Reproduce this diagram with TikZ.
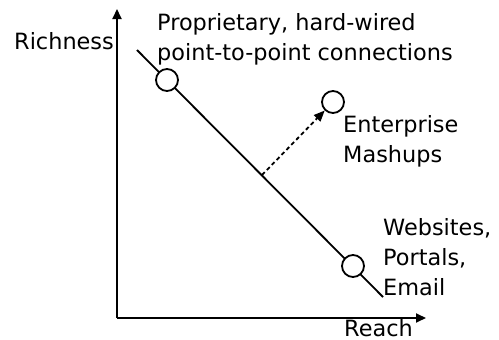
\documentclass[tikz,border=0pt]{standalone}
\usepackage{fontspec}
\setmainfont{DejaVu Sans}
\usetikzlibrary{arrows.meta}
\begin{document}
\begin{tikzpicture}[x=1pt,y=-1pt,
  lbl/.style={anchor=base west,inner sep=0pt,align=left,
    font=\fontsize{22.4}{30}\selectfont},
  dot/.style={circle,draw,line width=1.8pt,fill=white,minimum size=22pt,inner sep=0pt},
  axis/.style={line width=2pt,-{Triangle[length=10pt,width=9pt]}}]
\useasboundingbox (0,0) rectangle (499,340);
% axes
\coordinate (O) at (117,318);
\coordinate (ytip) at (117,9);
\coordinate (xtip) at (426,318);
\draw[axis] (O) -- (ytip);
\draw[axis] (O) -- (xtip);
% trade-off line between richness and reach
\coordinate (lineA) at (137,50);
\coordinate (lineB) at (383,297);
\coordinate (mid) at (262,175);
\draw[line width=1.8pt] (lineA) -- (lineB);
\node[dot] (p2p) at (167,80) {};
\node[dot] (web) at (353,266) {};
\node[dot] (mash) at (333,102) {};
\draw[line width=1.8pt,dash pattern=on 4pt off 3pt,-{Triangle[length=11pt,width=9pt]}] (mid) -- (mash);
% labels (base west sits on the last line's baseline)
\node[lbl] (rich) at (14,49) {Richness};
\node[lbl] (reach) at (344,336) {Reach};
\node[lbl] (ptxt) at (157,60) {Proprietary, hard-wired\\point-to-point connections};
\node[lbl] (mtxt) at (343,162) {Enterprise\\Mashups};
\node[lbl] (wtxt) at (383,295) {Websites,\\Portals,\\Email};
\end{tikzpicture}
\end{document}
